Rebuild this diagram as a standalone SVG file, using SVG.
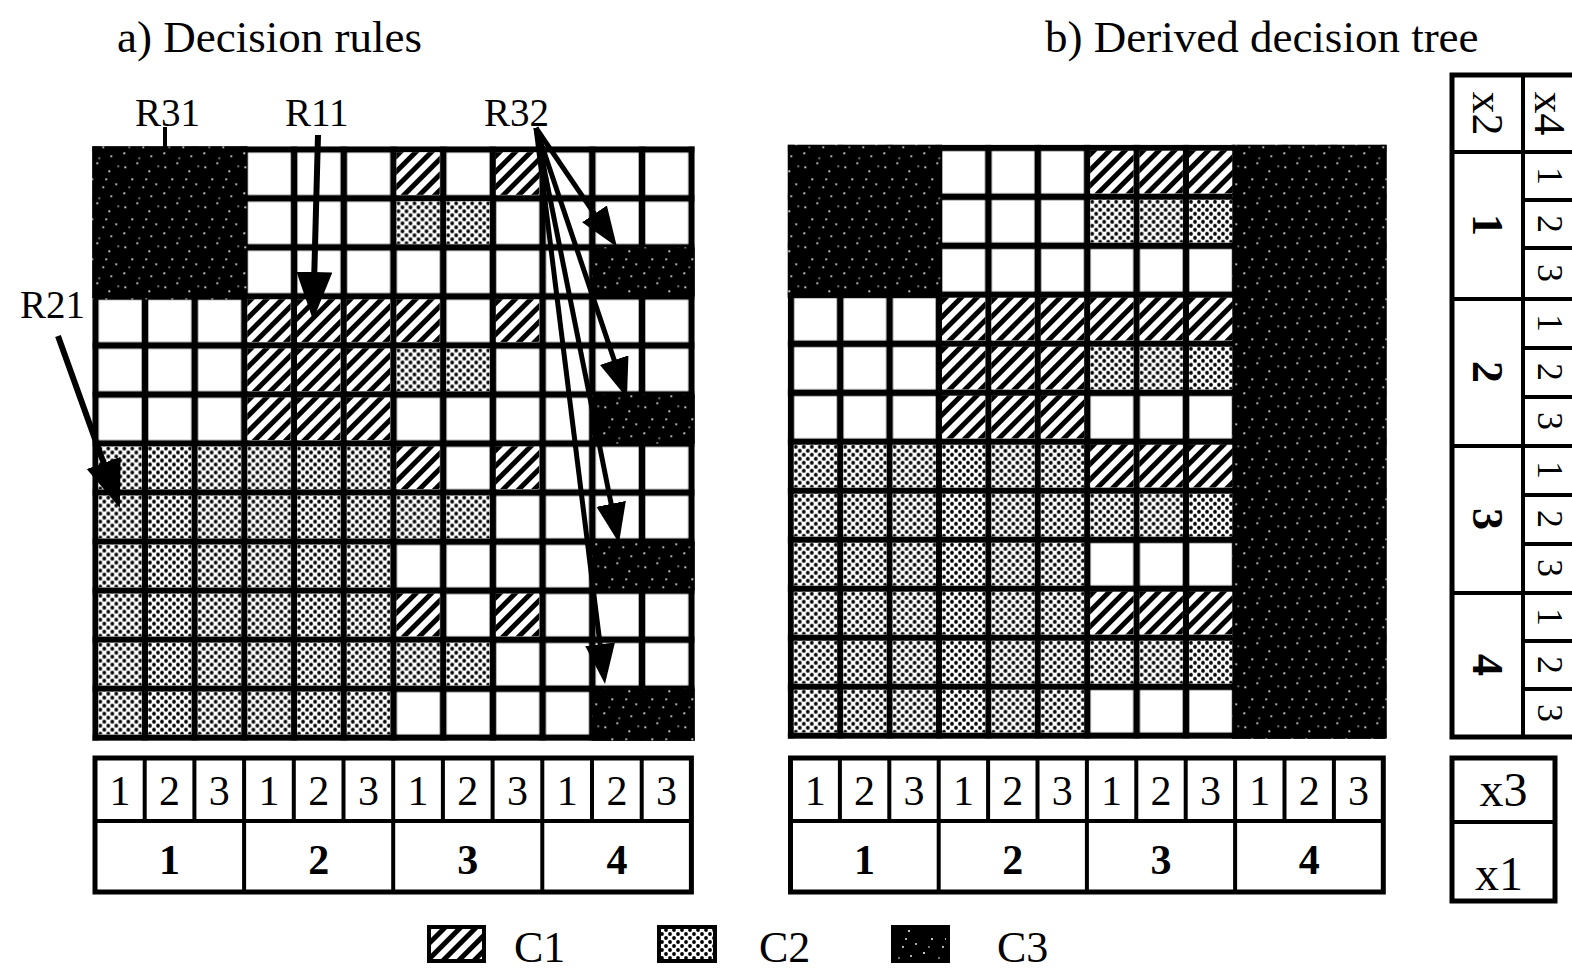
<svg xmlns="http://www.w3.org/2000/svg" xmlns:xlink="http://www.w3.org/1999/xlink" width="1572" height="971" viewBox="0 0 1572 971">
  <style>
    text { font-family: "Liberation Serif", "Times New Roman", serif; fill: #000; }
    .title { font-size: 45px; }
    .rlab { font-size: 39px; }
    .dig { font-size: 42px; text-anchor: middle; }
    .key { font-size: 48px; text-anchor: middle; }
    .bold { font-weight: bold; }
    .rot { font-size: 44px; text-anchor: middle; dominant-baseline: central; }
    .rotsm { font-size: 36px; text-anchor: middle; dominant-baseline: central; }
    .leg { font-size: 44px; }
    .frame { fill: #fff; stroke: #000; stroke-width: 5; }
    .ln { stroke: #000; stroke-width: 4; fill: none; }
    .arrowL { stroke: #000; stroke-width: 6; fill: none; marker-end: url(#headL); }
    .arrowS { stroke: #000; stroke-width: 5; fill: none; marker-end: url(#headS); }
    .sw { stroke: #000; stroke-width: 4; }
  </style>
  <defs>
    <!-- C1: diagonal hatching -->
    <pattern id="c1" width="11" height="11" patternUnits="userSpaceOnUse" patternTransform="rotate(45)">
      <rect width="11" height="11" fill="#fff"/>
      <rect width="5" height="11" fill="#000"/>
    </pattern>
    <!-- C2: stippled dots -->
    <pattern id="c2" width="8" height="8" patternUnits="userSpaceOnUse">
      <rect width="8" height="8" fill="#fff"/>
      <circle cx="2" cy="2" r="1.9" fill="#000"/>
      <circle cx="6" cy="6" r="1.9" fill="#000"/>
    </pattern>
    <!-- C3: black with sparse white specks -->
    <pattern id="c3" width="40" height="40" patternUnits="userSpaceOnUse">
      <rect width="40" height="40" fill="#000"/>
      <g fill="#fff">
        <circle cx="5" cy="7" r="1"/><circle cx="17" cy="3" r="0.9"/><circle cx="29" cy="11" r="1"/>
        <circle cx="36" cy="24" r="0.9"/><circle cx="12" cy="19" r="1"/><circle cx="23" cy="27" r="0.9"/>
        <circle cx="4" cy="33" r="1"/><circle cx="31" cy="36" r="0.9"/><circle cx="19" cy="38" r="0.8"/>
        <circle cx="9" cy="27" r="0.8"/><circle cx="26" cy="19" r="0.9"/><circle cx="38" cy="6" r="0.8"/>
      </g>
    </pattern>
    <!-- empty cell tiles for the two grids -->
    <pattern id="cellA" x="95" y="149" width="49.7" height="49.04" patternUnits="userSpaceOnUse">
      <rect width="49.7" height="49.04" fill="#000"/>
      <rect x="3.3" y="3.3" width="43.1" height="42.44" fill="#fff"/>
    </pattern>
    <pattern id="cellB" x="790.5" y="147.5" width="49.4" height="49" patternUnits="userSpaceOnUse">
      <rect width="49.4" height="49" fill="#000"/>
      <rect x="3.3" y="3.3" width="42.8" height="42.4" fill="#fff"/>
    </pattern>
    <rect id="h" width="43.2" height="42.5" fill="url(#c1)"/>
    <rect id="s" width="43.2" height="42.5" fill="url(#c2)"/>
    <marker id="headL" markerUnits="userSpaceOnUse" markerWidth="50" markerHeight="38" refX="12" refY="18" orient="auto">
      <path d="M0,0 L48,18 L0,36 Z" fill="#000"/>
    </marker>
    <marker id="headS" markerUnits="userSpaceOnUse" markerWidth="42" markerHeight="32" refX="10" refY="15" orient="auto">
      <path d="M0,0 L40,15 L0,30 Z" fill="#000"/>
    </marker>
  </defs>

  <rect width="1572" height="971" fill="#fff"/>

  <!-- titles -->
  <text class="title" x="117" y="52">a) Decision rules</text>
  <text class="title" x="1045" y="52">b) Derived decision tree</text>

  <!-- a) rule grid -->
  <g id="grid-a" transform="translate(0.3 0.3)">
    <rect x="92" y="146" width="602.4" height="594.5" fill="url(#cellA)"/>
    <!-- C3 regions -->
    <rect x="92" y="146" width="155.1" height="153.1" fill="url(#c3)"/>
    <rect x="592" y="247.1" width="102.4" height="49" fill="url(#c3)"/>
    <rect x="592" y="394.2" width="102.4" height="49" fill="url(#c3)"/>
    <rect x="592" y="541.3" width="102.4" height="49" fill="url(#c3)"/>
    <rect x="592" y="688.4" width="102.4" height="52.1" fill="url(#c3)"/>
    <!-- C1 cells -->
    <use href="#h" x="396.2" y="152"/><use href="#h" x="495.6" y="152"/>
    <use href="#h" x="247.1" y="299.1"/><use href="#h" x="296.8" y="299.1"/><use href="#h" x="346.5" y="299.1"/><use href="#h" x="396.2" y="299.1"/><use href="#h" x="495.6" y="299.1"/>
    <use href="#h" x="247.1" y="348.2"/><use href="#h" x="296.8" y="348.2"/><use href="#h" x="346.5" y="348.2"/>
    <use href="#h" x="247.1" y="397.2"/><use href="#h" x="296.8" y="397.2"/><use href="#h" x="346.5" y="397.2"/>
    <use href="#h" x="396.2" y="446.2"/><use href="#h" x="495.6" y="446.2"/>
    <use href="#h" x="396.2" y="593.4"/><use href="#h" x="495.6" y="593.4"/>
    <!-- C2 cells -->
    <use href="#s" x="396.2" y="201"/><use href="#s" x="445.9" y="201"/>
    <use href="#s" x="396.2" y="348.2"/><use href="#s" x="445.9" y="348.2"/>
    <use href="#s" x="98" y="446.2"/><use href="#s" x="147.7" y="446.2"/><use href="#s" x="197.4" y="446.2"/><use href="#s" x="247.1" y="446.2"/><use href="#s" x="296.8" y="446.2"/><use href="#s" x="346.5" y="446.2"/>
    <use href="#s" x="98" y="495.3"/><use href="#s" x="147.7" y="495.3"/><use href="#s" x="197.4" y="495.3"/><use href="#s" x="247.1" y="495.3"/><use href="#s" x="296.8" y="495.3"/><use href="#s" x="346.5" y="495.3"/><use href="#s" x="396.2" y="495.3"/><use href="#s" x="445.9" y="495.3"/>
    <use href="#s" x="98" y="544.3"/><use href="#s" x="147.7" y="544.3"/><use href="#s" x="197.4" y="544.3"/><use href="#s" x="247.1" y="544.3"/><use href="#s" x="296.8" y="544.3"/><use href="#s" x="346.5" y="544.3"/>
    <use href="#s" x="98" y="593.4"/><use href="#s" x="147.7" y="593.4"/><use href="#s" x="197.4" y="593.4"/><use href="#s" x="247.1" y="593.4"/><use href="#s" x="296.8" y="593.4"/><use href="#s" x="346.5" y="593.4"/>
    <use href="#s" x="98" y="642.4"/><use href="#s" x="147.7" y="642.4"/><use href="#s" x="197.4" y="642.4"/><use href="#s" x="247.1" y="642.4"/><use href="#s" x="296.8" y="642.4"/><use href="#s" x="346.5" y="642.4"/><use href="#s" x="396.2" y="642.4"/><use href="#s" x="445.9" y="642.4"/>
    <use href="#s" x="98" y="691.4"/><use href="#s" x="147.7" y="691.4"/><use href="#s" x="197.4" y="691.4"/><use href="#s" x="247.1" y="691.4"/><use href="#s" x="296.8" y="691.4"/><use href="#s" x="346.5" y="691.4"/>
  </g>

  <!-- rule labels -->
  <g id="rule-labels">
    <text class="rlab" x="135" y="126">R31</text>
    <text class="rlab" x="285" y="126">R11</text>
    <text class="rlab" x="484" y="126">R32</text>
    <text class="rlab" x="20" y="318">R21</text>
  </g>

  <!-- pointers from rule labels to grid cells -->
  <g id="connectors">
    <line x1="165" y1="127" x2="165" y2="150" stroke="#000" stroke-width="4"/>
    <line class="arrowL" x1="318" y1="135" x2="314" y2="284"/>
    <line class="arrowL" x1="58" y1="336" x2="107.7" y2="474.2"/>
    <line class="arrowS" x1="536" y1="128" x2="600.1" y2="222.2"/>
    <line class="arrowS" x1="536" y1="128" x2="617.4" y2="369.6"/>
    <line class="arrowS" x1="536" y1="128" x2="613.1" y2="513.6"/>
    <line class="arrowS" x1="536" y1="128" x2="601.3" y2="654.2"/>
  </g>

  <!-- b) tree grid -->
  <g id="grid-b" transform="translate(0.3 0.3)">
    <rect x="787.5" y="144.5" width="598.8" height="594" fill="url(#cellB)"/>
    <rect x="787.5" y="144.5" width="154.2" height="153" fill="url(#c3)"/>
    <rect x="1232" y="144.5" width="154.3" height="594" fill="url(#c3)"/>
    <!-- C1 cells -->
    <use href="#h" x="1089.9" y="150.5"/><use href="#h" x="1139.3" y="150.5"/><use href="#h" x="1188.7" y="150.5"/>
    <use href="#h" x="941.7" y="297.5"/><use href="#h" x="991.1" y="297.5"/><use href="#h" x="1040.5" y="297.5"/><use href="#h" x="1089.9" y="297.5"/><use href="#h" x="1139.3" y="297.5"/><use href="#h" x="1188.7" y="297.5"/>
    <use href="#h" x="941.7" y="346.5"/><use href="#h" x="991.1" y="346.5"/><use href="#h" x="1040.5" y="346.5"/>
    <use href="#h" x="941.7" y="395.5"/><use href="#h" x="991.1" y="395.5"/><use href="#h" x="1040.5" y="395.5"/>
    <use href="#h" x="1089.9" y="444.5"/><use href="#h" x="1139.3" y="444.5"/><use href="#h" x="1188.7" y="444.5"/>
    <use href="#h" x="1089.9" y="591.5"/><use href="#h" x="1139.3" y="591.5"/><use href="#h" x="1188.7" y="591.5"/>
    <!-- C2 cells -->
    <use href="#s" x="1089.9" y="199.5"/><use href="#s" x="1139.3" y="199.5"/><use href="#s" x="1188.7" y="199.5"/>
    <use href="#s" x="1089.9" y="346.5"/><use href="#s" x="1139.3" y="346.5"/><use href="#s" x="1188.7" y="346.5"/>
    <use href="#s" x="793.5" y="444.5"/><use href="#s" x="842.9" y="444.5"/><use href="#s" x="892.3" y="444.5"/><use href="#s" x="941.7" y="444.5"/><use href="#s" x="991.1" y="444.5"/><use href="#s" x="1040.5" y="444.5"/>
    <use href="#s" x="793.5" y="493.5"/><use href="#s" x="842.9" y="493.5"/><use href="#s" x="892.3" y="493.5"/><use href="#s" x="941.7" y="493.5"/><use href="#s" x="991.1" y="493.5"/><use href="#s" x="1040.5" y="493.5"/><use href="#s" x="1089.9" y="493.5"/><use href="#s" x="1139.3" y="493.5"/><use href="#s" x="1188.7" y="493.5"/>
    <use href="#s" x="793.5" y="542.5"/><use href="#s" x="842.9" y="542.5"/><use href="#s" x="892.3" y="542.5"/><use href="#s" x="941.7" y="542.5"/><use href="#s" x="991.1" y="542.5"/><use href="#s" x="1040.5" y="542.5"/>
    <use href="#s" x="793.5" y="591.5"/><use href="#s" x="842.9" y="591.5"/><use href="#s" x="892.3" y="591.5"/><use href="#s" x="941.7" y="591.5"/><use href="#s" x="991.1" y="591.5"/><use href="#s" x="1040.5" y="591.5"/>
    <use href="#s" x="793.5" y="640.5"/><use href="#s" x="842.9" y="640.5"/><use href="#s" x="892.3" y="640.5"/><use href="#s" x="941.7" y="640.5"/><use href="#s" x="991.1" y="640.5"/><use href="#s" x="1040.5" y="640.5"/><use href="#s" x="1089.9" y="640.5"/><use href="#s" x="1139.3" y="640.5"/><use href="#s" x="1188.7" y="640.5"/>
    <use href="#s" x="793.5" y="689.5"/><use href="#s" x="842.9" y="689.5"/><use href="#s" x="892.3" y="689.5"/><use href="#s" x="941.7" y="689.5"/><use href="#s" x="991.1" y="689.5"/><use href="#s" x="1040.5" y="689.5"/>
  </g>

  <!-- x3 / x1 axis under grid a -->
  <g id="axis-a">
    <rect class="frame" x="95" y="758" width="596.4" height="134"/>
    <line class="ln" x1="95" y1="821" x2="691.4" y2="821"/>
    <path class="ln" d="M144.7,758V821M194.4,758V821M293.8,758V821M343.5,758V821M442.9,758V821M492.6,758V821M592,758V821M641.7,758V821"/>
    <path class="ln" d="M244.1,758V892M393.2,758V892M542.3,758V892"/>
    <g class="dig">
      <text x="119.9" y="805">1</text><text x="169.6" y="805">2</text><text x="219.3" y="805">3</text>
      <text x="269" y="805">1</text><text x="318.7" y="805">2</text><text x="368.4" y="805">3</text>
      <text x="418.1" y="805">1</text><text x="467.8" y="805">2</text><text x="517.5" y="805">3</text>
      <text x="567.2" y="805">1</text><text x="616.9" y="805">2</text><text x="666.6" y="805">3</text>
    </g>
    <g class="dig bold">
      <text x="169.6" y="874">1</text><text x="318.7" y="874">2</text><text x="467.8" y="874">3</text><text x="616.9" y="874">4</text>
    </g>
  </g>

  <!-- x3 / x1 axis under grid b -->
  <g id="axis-b">
    <rect class="frame" x="790.5" y="758" width="592.8" height="134"/>
    <line class="ln" x1="790.5" y1="821" x2="1383.3" y2="821"/>
    <path class="ln" d="M839.9,758V821M889.3,758V821M988.1,758V821M1037.5,758V821M1136.3,758V821M1185.7,758V821M1284.5,758V821M1333.9,758V821"/>
    <path class="ln" d="M938.7,758V892M1086.9,758V892M1235.1,758V892"/>
    <g class="dig">
      <text x="815.2" y="805">1</text><text x="864.6" y="805">2</text><text x="914" y="805">3</text>
      <text x="963.4" y="805">1</text><text x="1012.8" y="805">2</text><text x="1062.2" y="805">3</text>
      <text x="1111.6" y="805">1</text><text x="1161" y="805">2</text><text x="1210.4" y="805">3</text>
      <text x="1259.8" y="805">1</text><text x="1309.2" y="805">2</text><text x="1358.6" y="805">3</text>
    </g>
    <g class="dig bold">
      <text x="864.6" y="874">1</text><text x="1012.8" y="874">2</text><text x="1161" y="874">3</text><text x="1309.2" y="874">4</text>
    </g>
  </g>

  <!-- x2 / x4 axis at the right -->
  <g id="axis-rows">
    <rect class="frame" x="1452" y="75" width="130" height="662"/>
    <line class="ln" x1="1523" y1="75" x2="1523" y2="737"/>
    <path class="ln" d="M1452,152H1572M1452,299H1572M1452,446H1572M1452,593H1572"/>
    <path class="ln" d="M1523,200H1572M1523,248H1572M1523,348H1572M1523,397H1572M1523,495H1572M1523,544H1572M1523,641H1572M1523,689H1572"/>
    <text class="rot" transform="rotate(90 1487.5 113.5)" x="1487.5" y="113.5">x2</text>
    <text class="rot" transform="rotate(90 1549 113.5)" x="1549" y="113.5">x4</text>
    <g class="rot bold">
      <text transform="rotate(90 1487.5 225)" x="1487.5" y="225">1</text>
      <text transform="rotate(90 1487.5 372)" x="1487.5" y="372">2</text>
      <text transform="rotate(90 1487.5 519)" x="1487.5" y="519">3</text>
      <text transform="rotate(90 1487.5 665)" x="1487.5" y="665">4</text>
    </g>
    <g class="rotsm">
      <text transform="rotate(90 1550 176)" x="1550" y="176">1</text>
      <text transform="rotate(90 1550 224)" x="1550" y="224">2</text>
      <text transform="rotate(90 1550 273)" x="1550" y="273">3</text>
      <text transform="rotate(90 1550 323)" x="1550" y="323">1</text>
      <text transform="rotate(90 1550 372)" x="1550" y="372">2</text>
      <text transform="rotate(90 1550 421)" x="1550" y="421">3</text>
      <text transform="rotate(90 1550 470)" x="1550" y="470">1</text>
      <text transform="rotate(90 1550 519)" x="1550" y="519">2</text>
      <text transform="rotate(90 1550 568)" x="1550" y="568">3</text>
      <text transform="rotate(90 1550 617)" x="1550" y="617">1</text>
      <text transform="rotate(90 1550 665)" x="1550" y="665">2</text>
      <text transform="rotate(90 1550 713)" x="1550" y="713">3</text>
    </g>
  </g>

  <!-- axis name key -->
  <g id="axis-key">
    <rect class="frame" x="1452" y="758" width="103" height="143"/>
    <line class="ln" x1="1452" y1="822" x2="1555" y2="822"/>
    <text class="key" x="1503.5" y="806">x3</text>
    <text class="key" x="1499" y="890">x1</text>
  </g>

  <!-- class legend -->
  <g id="legend">
    <rect class="sw" x="429" y="927" width="55" height="34" fill="url(#c1)"/>
    <text class="leg" x="514" y="962">C1</text>
    <rect class="sw" x="659" y="927" width="56" height="34" fill="url(#c2)"/>
    <text class="leg" x="759" y="962">C2</text>
    <rect class="sw" x="893" y="927" width="55" height="34" fill="url(#c3)"/>
    <text class="leg" x="997" y="962">C3</text>
  </g>
</svg>
